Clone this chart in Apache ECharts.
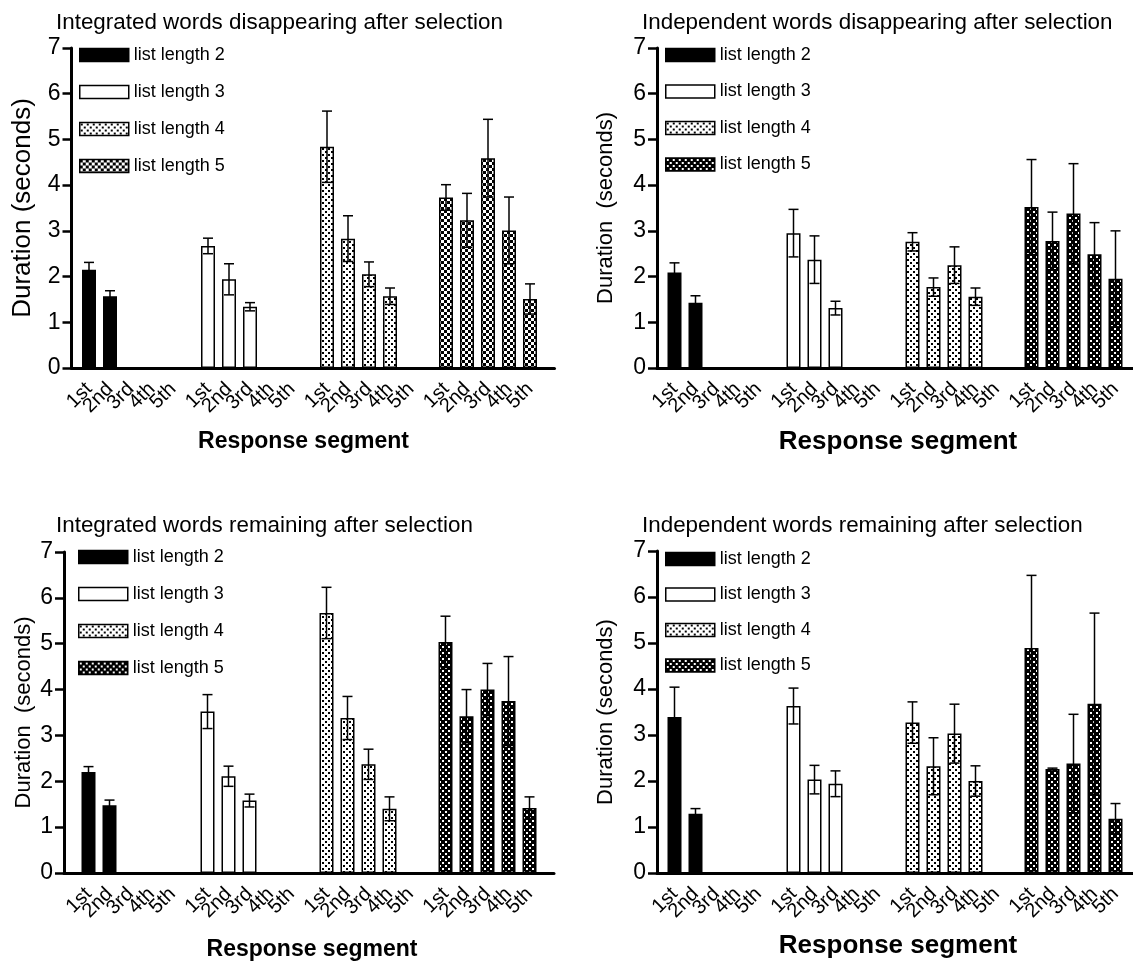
<!DOCTYPE html>
<html>
<head>
<meta charset="utf-8">
<script src="https://cdn.jsdelivr.net/npm/echarts@6/dist/echarts.min.js"></script>
<style>
  html, body { margin: 0; padding: 0; background: #fff; }
  #chart { width: 1133px; height: 964px; }
</style>
</head>
<body>
<div id="chart"></div>
<script>
// ---- data ----
const segLabels = ['1st', '2nd', '3rd', '4th', '5th'];
const listNames = ['list length 2', 'list length 3', 'list length 4', 'list length 5'];
const panelTitles = [
  'Integrated words disappearing after selection',
  'Independent words disappearing after selection',
  'Integrated words remaining after selection',
  'Independent words remaining after selection'
];
const yNames = ['Duration (seconds)', 'Duration  (seconds)', 'Duration  (seconds)', 'Duration (seconds)'];
const xName = 'Response segment';

// mean durations per list length (2..5), one value per response segment
const meanIntDis = [[2.15, 1.57], [2.67, 1.94, 1.34], [4.84, 2.83, 2.05, 1.57], [3.73, 3.23, 4.59, 3.01, 1.51]];
const errIntDis  = [[0.16, 0.12], [0.17, 0.34, 0.09], [0.78, 0.50, 0.27, 0.18], [0.28, 0.59, 0.85, 0.73, 0.33]];
const meanIndDis = [[2.09, 1.43], [2.95, 2.37, 1.31], [2.76, 1.77, 2.25, 1.56], [3.52, 2.78, 3.38, 2.49, 1.95]];
const errIndDis  = [[0.21, 0.15], [0.52, 0.52, 0.15], [0.20, 0.20, 0.40, 0.19], [1.04, 0.63, 1.09, 0.69, 1.05]];
const meanIntRem = [[2.20, 1.48], [3.52, 2.11, 1.58], [5.67, 3.38, 2.37, 1.40], [5.04, 3.42, 4.00, 3.75, 1.42]];
const errIntRem  = [[0.12, 0.11], [0.37, 0.22, 0.14], [0.56, 0.47, 0.33, 0.26], [0.56, 0.58, 0.57, 0.97, 0.24]];
const meanIndRem = [[3.39, 1.29], [3.63, 2.03, 1.94], [3.27, 2.32, 3.03, 2.00], [4.89, 2.26, 2.38, 3.68, 1.18]];
const errIndRem  = [[0.65, 0.11], [0.39, 0.31, 0.28], [0.45, 0.62, 0.64, 0.33], [1.58, 0.02, 1.07, 1.97, 0.33]];

const FONT = "'Liberation Sans', Arial, Helvetica, sans-serif";

// fill patterns drawn on small canvases
function makePattern(bg, fg, rects) {
  const c = document.createElement('canvas');
  c.width = 6; c.height = 6;
  const ctx = c.getContext('2d');
  ctx.fillStyle = bg;
  ctx.fillRect(0, 0, 6, 6);
  ctx.fillStyle = fg;
  rects.forEach(r => ctx.fillRect(r[0], r[1], r[2], r[3]));
  return { image: c, repeat: 'repeat' };
}
const solidBlack = '#000';
const plainWhite = '#fff';
const lightDots = makePattern('#fff', '#000', [[1, 1, 2, 2], [4, 4, 2, 2]]);
const midChecker = makePattern('#fff', '#000', [[0, 0, 3, 3], [3, 3, 3, 3]]);
const darkChecker = makePattern('#000', '#fff', [[1, 1, 2, 2], [4, 4, 2, 2]]);

// layout of the four panels (category = one third of a segment slot)
const panels = [
  { mean: meanIntDis, err: errIntDis, left: 71.5, top: 48, height: 320, nCat: 69, first: 2,
    fills: [solidBlack, plainWhite, lightDots, midChecker], titleLeft: 56, titleTop: 12,
    legendLeft: 79, legendTop: 46, legendGap: 19, yNameSize: 26, yNameGap: 36, xNameSize: 23, xNameGap: 62, xNamePad: [0, 19, 0, 0] },
  { mean: meanIndDis, err: errIndDis, left: 657, top: 48, height: 320, nCat: 68, first: 2,
    fills: [solidBlack, plainWhite, lightDots, darkChecker], titleLeft: 642, titleTop: 12,
    legendLeft: 665, legendTop: 46, legendGap: 18.5, yNameSize: 22, yNameGap: 40, xNameSize: 26, xNameGap: 61, xNamePad: [0, 0, 0, 6] },
  { mean: meanIntRem, err: errIntRem, left: 64, top: 552, height: 321, nCat: 70, first: 3,
    fills: [solidBlack, plainWhite, lightDots, darkChecker], titleLeft: 56, titleTop: 515,
    legendLeft: 78, legendTop: 548, legendGap: 19, yNameSize: 22, yNameGap: 29, xNameSize: 23, xNameGap: 65, xNamePad: [0, 0, 0, 6] },
  { mean: meanIndRem, err: errIndRem, left: 657, top: 551, height: 322, nCat: 68, first: 2,
    fills: [solidBlack, plainWhite, lightDots, darkChecker], titleLeft: 642, titleTop: 515,
    legendLeft: 665, legendTop: 550, legendGap: 17.5, yNameSize: 22, yNameGap: 40, xNameSize: 26, xNameGap: 60, xNamePad: [0, 0, 0, 6] }
];
const CAT_W = 7;
const GROUP_STEP = 17;
const SEG_STEP = 3;

function renderErr(params, api) {
  const i = api.value(0), m = api.value(1), e = api.value(2);
  const hi = api.coord([i, m + e]);
  const lo = api.coord([i, m - e]);
  const hw = 5;
  const st = { stroke: '#000', lineWidth: 1.5 };
  return {
    type: 'group',
    children: [
      { type: 'line', shape: { x1: hi[0], y1: hi[1], x2: lo[0], y2: lo[1] }, style: st },
      { type: 'line', shape: { x1: hi[0] - hw, y1: hi[1], x2: hi[0] + hw, y2: hi[1] }, style: st },
      { type: 'line', shape: { x1: lo[0] - hw, y1: lo[1], x2: lo[0] + hw, y2: lo[1] }, style: st }
    ]
  };
}

let grids = [], xAxes = [], yAxes = [], titles = [], legends = [], series = [];

panels.forEach((p, pi) => {
  const labelAt = {};
  const cats = [];
  for (let i = 0; i < p.nCat; i++) cats.push('c' + i);
  for (let g = 0; g < 4; g++) {
    for (let k = 0; k < 5; k++) labelAt[p.first + g * GROUP_STEP + k * SEG_STEP] = segLabels[k];
  }
  const isTick = (idx) => labelAt[idx] !== undefined;
  // empty labels at both ends so the real first/last labels are not dropped as overlapping
  const isLabel = (idx) => isTick(idx) || idx === 0 || idx === p.nCat - 1;

  grids.push({ left: p.left, top: p.top, width: p.nCat * CAT_W, height: p.height, containLabel: false });

  xAxes.push({
    type: 'category', gridIndex: pi, data: cats, boundaryGap: true,
    axisLine: { lineStyle: { color: '#000', width: 3 } },
    axisTick: { alignWithLabel: true, interval: isTick, length: 10, lineStyle: { color: '#000', width: 2.5 } },
    axisLabel: {
      interval: isLabel, rotate: 45, margin: 18, color: '#000', fontSize: 20, fontFamily: FONT,
      formatter: (v, idx) => labelAt[idx] || ''
    },
    splitLine: { show: false },
    name: xName, nameLocation: 'middle', nameGap: p.xNameGap,
    nameTextStyle: { color: '#000', fontSize: p.xNameSize, fontWeight: 'bold', fontFamily: FONT, padding: p.xNamePad }
  });

  yAxes.push({
    type: 'value', gridIndex: pi, min: 0, max: 7, interval: 1,
    axisLine: { show: true, lineStyle: { color: '#000', width: 3 } },
    axisTick: { show: true, length: 9, lineStyle: { color: '#000', width: 2.5 } },
    axisLabel: { color: '#000', fontSize: 23, margin: 11, fontFamily: FONT },
    splitLine: { show: false },
    name: yNames[pi], nameLocation: 'middle', nameRotate: 90, nameGap: p.yNameGap,
    nameTextStyle: { color: '#000', fontSize: p.yNameSize, fontFamily: FONT }
  });

  titles.push({
    text: panelTitles[pi], left: p.titleLeft, top: p.titleTop, padding: 0,
    textStyle: { color: '#000', fontSize: 22.4, fontWeight: 'normal', fontFamily: FONT }
  });

  legends.push({
    orient: 'vertical', left: p.legendLeft, top: p.legendTop, padding: 0,
    itemWidth: 49, itemHeight: 13, itemGap: p.legendGap, selectedMode: false,
    icon: 'rect',
    data: listNames.map(n => n + '|' + pi),
    formatter: (n) => n.split('|')[0],
    itemStyle: { borderColor: '#000', borderWidth: 1.5 },
    textStyle: { color: '#000', fontSize: 18, lineHeight: 18, fontFamily: FONT }
  });

  for (let g = 0; g < 4; g++) {
    const arr = new Array(p.nCat).fill('-');
    const errData = [];
    p.mean[g].forEach((v, k) => {
      const idx = p.first + g * GROUP_STEP + k * SEG_STEP;
      arr[idx] = v;
      errData.push([idx, v, p.err[g][k]]);
    });
    series.push({
      type: 'bar', name: listNames[g] + '|' + pi, xAxisIndex: pi, yAxisIndex: pi,
      data: arr, barWidth: 14, barGap: '-100%', silent: true,
      itemStyle: { color: p.fills[g], borderColor: '#000', borderWidth: 1.5 }
    });
    series.push({
      type: 'custom', name: 'err' + g + '|' + pi, xAxisIndex: pi, yAxisIndex: pi,
      data: errData, renderItem: renderErr, silent: true, z: 5
    });
  }
});

const chart = echarts.init(document.getElementById('chart'), null, { renderer: 'canvas' });
chart.setOption({
  animation: false,
  backgroundColor: '#fff',
  title: titles,
  legend: legends,
  grid: grids,
  xAxis: xAxes,
  yAxis: yAxes,
  series: series
});
</script>
</body>
</html>
